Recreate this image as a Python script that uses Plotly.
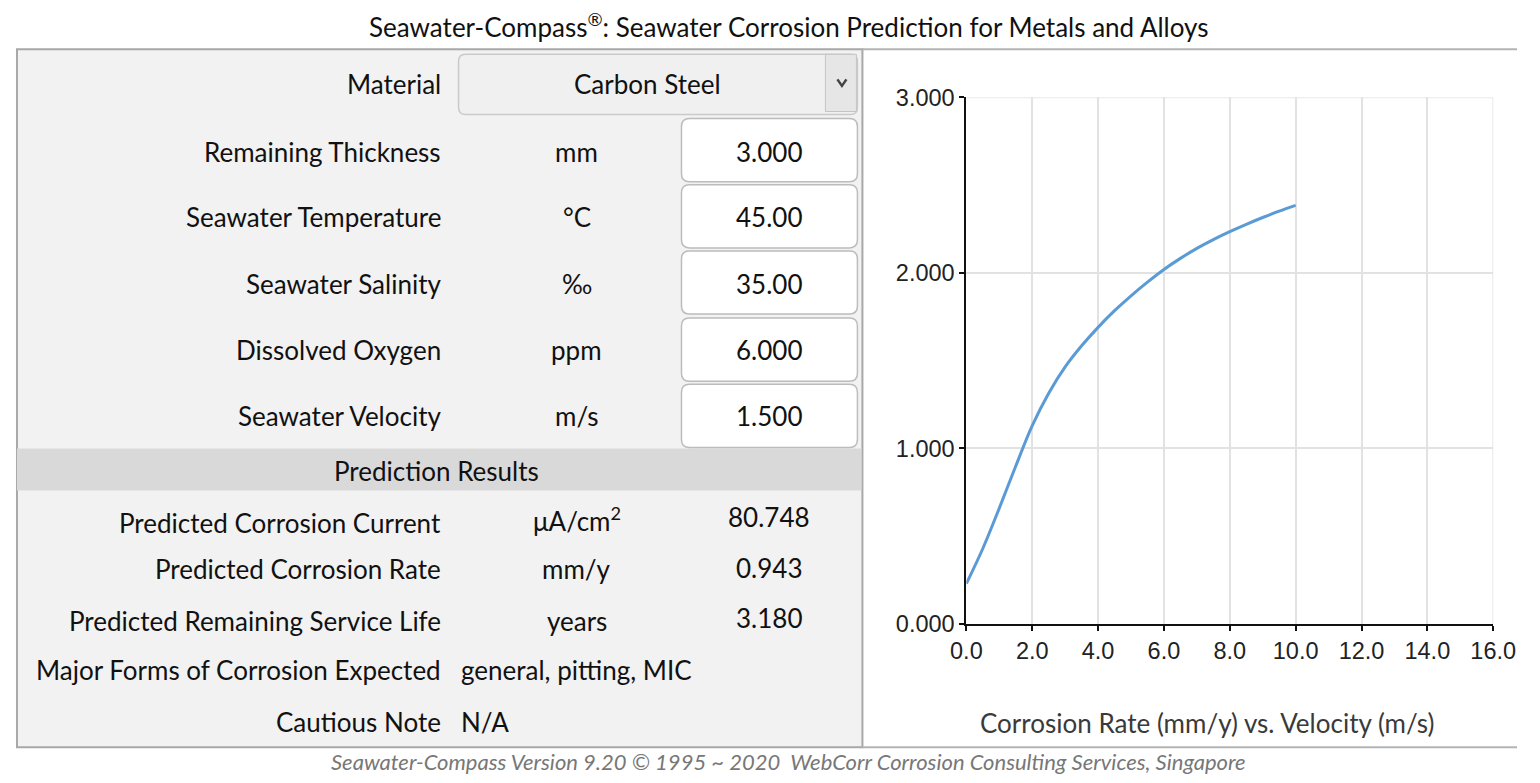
import plotly.graph_objects as go

# ---------------- data ----------------
material = "Carbon Steel"
input_labels = ["Remaining Thickness", "Seawater Temperature", "Seawater Salinity",
                "Dissolved Oxygen", "Seawater Velocity"]
input_units = ["mm", "°C", "‰", "ppm", "m/s"]
input_values = ["3.000", "45.00", "35.00", "6.000", "1.500"]

result_labels = ["Predicted Corrosion Current", "Predicted Corrosion Rate",
                 "Predicted Remaining Service Life"]
result_units = ["μA/cm<sup>2</sup>", "mm/y", "years"]
result_values = ["80.748", "0.943", "3.180"]
forms_expected = "general, pitting, MIC"
cautious_note = "N/A"

velocity = [0.0, 0.5, 1.0, 1.5, 2.0, 2.5, 3.0, 3.5, 4.0, 4.5, 5.0,
            5.5, 6.0, 6.5, 7.0, 7.5, 8.0, 8.5, 9.0, 9.5, 10.0]
corrosion_rate = [0.23, 0.43, 0.66, 0.90, 1.13, 1.315, 1.465, 1.585, 1.69, 1.785, 1.87,
                  1.948, 2.02, 2.083, 2.14, 2.19, 2.235, 2.277, 2.316, 2.352, 2.385]

x_ticks = [0, 2, 4, 6, 8, 10, 12, 14, 16]
y_ticks = [0, 1, 2, 3]

# ---------------- helpers (target pixel -> paper) ----------------
W, H = 1540, 783
FONT = "Lato, Open Sans, sans-serif"
SX, AX = 0.975, 16.3   # observed page -> photo mapping, compensated here
SY, AY = 0.964, 13.8


def X(p):
    return min(max((p - AX) / SX, 1), W) / W


def Y(p):
    return 1 - min(max((p - AY) / SY, 0), H - 1) / H


def rrect_path(x0, y0, x1, y1, r):
    pts = [
        ("M", [(x0 + r, y0)]), ("L", [(x1 - r, y0)]), ("Q", [(x1, y0), (x1, y0 + r)]),
        ("L", [(x1, y1 - r)]), ("Q", [(x1, y1), (x1 - r, y1)]), ("L", [(x0 + r, y1)]),
        ("Q", [(x0, y1), (x0, y1 - r)]), ("L", [(x0, y0 + r)]), ("Q", [(x0, y0), (x0 + r, y0)]),
    ]
    s = ""
    for cmd, coords in pts:
        s += cmd + " " + " ".join(f"{X(a):.6f},{Y(b):.6f}" for a, b in coords) + " "
    return s + "Z"


shapes = []
annotations = []


def text(t, x, y, anchor="center", size=26, color="#111111", italic=False, font=FONT, ypaper=None):
    annotations.append(dict(
        text=t, x=X(x), y=Y(y) if ypaper is None else ypaper, xref="paper", yref="paper",
        xanchor=anchor, yanchor="middle",
        showarrow=False, font=dict(family=font, size=size, color=color,
                                   style="italic" if italic else "normal")))


# left panel
shapes.append(dict(type="rect", xref="paper", yref="paper", x0=X(11), x1=X(863), y0=Y(50), y1=Y(746),
                   fillcolor="#f2f2f2", line=dict(color="#a8a8a8", width=2), layer="below"))
# top & bottom lines of right part
shapes.append(dict(type="line", xref="paper", yref="paper", x0=X(863), x1=X(1540), y0=Y(50), y1=Y(50),
                   line=dict(color="#b4b4b4", width=2), layer="below"))
shapes.append(dict(type="line", xref="paper", yref="paper", x0=X(863), x1=X(1540), y0=Y(746), y1=Y(746),
                   line=dict(color="#b4b4b4", width=2), layer="below"))
# prediction results band
shapes.append(dict(type="rect", xref="paper", yref="paper", x0=X(12), x1=X(862), y0=Y(448), y1=Y(490),
                   fillcolor="#d9d9d9", line=dict(width=0), layer="below"))
# dropdown
shapes.append(dict(type="path", xref="paper", yref="paper", path=rrect_path(459, 55, 858, 115, 7),
                   fillcolor="#f0f0f0", line=dict(color="#cacaca", width=1.5), layer="below"))
shapes.append(dict(type="rect", xref="paper", yref="paper", x0=X(826), x1=X(857), y0=Y(55), y1=Y(112),
                   fillcolor="#e6e6e6", line=dict(color="#c4c4c4", width=1), layer="below"))
shapes.append(dict(type="path", xref="paper", yref="paper",
                   path=f"M {X(838)},{Y(80)} L {X(842.5)},{Y(86.5)} L {X(847)},{Y(80)}",
                   line=dict(color="#444444", width=2.5)))

# input boxes
row_y = [152, 217, 284, 350, 416]
box_tops = [119, 185, 251, 318, 384]
for i, (lab, unit, val) in enumerate(zip(input_labels, input_units, input_values)):
    shapes.append(dict(type="path", xref="paper", yref="paper",
                       path=rrect_path(682, box_tops[i], 858, box_tops[i] + 63, 8),
                       fillcolor="#ffffff", line=dict(color="#bcbcbc", width=1.5), layer="below"))
    text(lab, 443, row_y[i], anchor="right")
    text(unit, 577, row_y[i])
    text(val, 770, row_y[i])

text("Material", 443, 85, anchor="right")
text(material, 648, 85)

text("Prediction Results", 437, 470)

res_y = [522, 568, 620]
val_y = [516, 567, 617]
unit_y = [519, 568, 620]
for i, (lab, unit, val) in enumerate(zip(result_labels, result_units, result_values)):
    text(lab, 443, res_y[i], anchor="right")
    text(unit, 577, unit_y[i])
    text(val, 770, val_y[i])

text("Major Forms of Corrosion Expected", 443, 669, anchor="right")
text(forms_expected, 459, 669, anchor="left")
text("Cautious Note", 443, 721, anchor="right")
text(cautious_note, 459, 721, anchor="left")

# title, chart caption, footer
text("Seawater-Compass<sup>®</sup>: Seawater Corrosion Prediction for Metals and Alloys", 789, 26)
text("Corrosion Rate (mm/y) vs. Velocity (m/s)", 1208, 722, color="#3a3a3a")
text("Seawater-Compass Version 9.20 © 1995 ~ 2020  WebCorr Corrosion Consulting Services, Singapore",
     789, 771, size=22, color="#777777", italic=True, ypaper=1 - 774 / H)

# ---------------- figure ----------------
fig = go.Figure()
fig.add_trace(go.Scatter(x=velocity, y=corrosion_rate, mode="lines",
                         line=dict(color="#5b9bd5", width=3, shape="spline", smoothing=1.0),
                         hoverinfo="x+y", showlegend=False))

tick_font = dict(family="Liberation Sans, Arial, sans-serif", size=23.5, color="#222222")
fig.update_layout(
    width=W, height=H, margin=dict(l=0, r=0, t=0, b=0),
    paper_bgcolor="#ffffff", plot_bgcolor="#ffffff",
    shapes=shapes, annotations=annotations,
    xaxis=dict(domain=[X(967), X(1494)], range=[0, 16], tickvals=x_ticks,
               ticktext=[f"{v:.1f}" for v in x_ticks], showgrid=True, gridcolor="#e2e2e2",
               gridwidth=1.5, zeroline=False, showline=True, linecolor="#111111", linewidth=2,
               ticks="outside", ticklen=5, tickcolor="#111111", tickwidth=1.5,
               tickfont=tick_font, fixedrange=True),
    yaxis=dict(domain=[Y(623), Y(98)], range=[0, 3], tickvals=y_ticks,
               ticktext=[f"{v:.3f}" for v in y_ticks], showgrid=True, gridcolor="#e2e2e2",
               gridwidth=1.5, zeroline=False, showline=True, linecolor="#111111", linewidth=2,
               ticks="outside", ticklen=5, tickcolor="#111111", tickwidth=1.5,
               tickfont=tick_font, fixedrange=True, ticklabelstandoff=0),
)
fig.add_shape(type="line", xref="x", yref="y", x0=0, x1=16, y0=3, y1=3,
              line=dict(color="#e2e2e2", width=1.5), layer="below")
fig.add_shape(type="line", xref="x", yref="y", x0=16, x1=16, y0=0, y1=3,
              line=dict(color="#e2e2e2", width=1.5), layer="below")

fig.write_html("out.html", config={"displayModeBar": False},
               post_script="document.body.style.margin='0';document.body.style.overflow='hidden';")
